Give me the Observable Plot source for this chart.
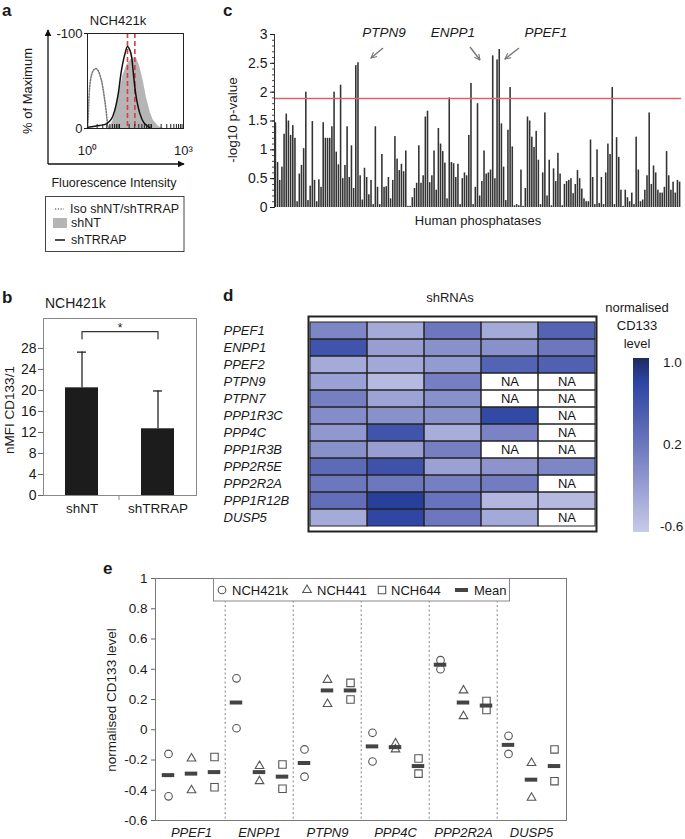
<!DOCTYPE html>
<html><head><meta charset="utf-8">
<script src="https://cdn.jsdelivr.net/npm/d3@7"></script>
<script src="https://cdn.jsdelivr.net/npm/@observablehq/plot@0.6"></script>
<style>
body{margin:0;background:#fff;}
#fig{position:relative;width:685px;height:839px;overflow:hidden;background:#fff;font-family:"Liberation Sans",Arial,Helvetica,sans-serif;}
#fig svg{overflow:visible}
</style></head>
<body><div id="fig"></div>
<script>
// ---------------- DATA ----------------
// Panel a: flow histograms (x = log10 fluorescence, y = % of max)
const isoX=[0.00,0.02,0.05,0.09,0.14,0.20,0.27,0.33,0.38,0.44,0.48,0.53,0.57,0.61,0.64,0.68];
const isoY=[0,10,35,50,58,62,63,61,57,50,43,32,22,10,2,0];
const trrapX=[0.01,0.38,0.59,0.75,0.85,0.96,1.06,1.17,1.25,1.33,1.38,1.43,1.48,1.54,1.64,1.75,1.85,1.96];
const trrapY=[1.4,3.2,4.9,10.2,19,36.5,61,78.6,86.3,82,75,59,43.5,29.5,15.4,6.7,3.2,0.3];
const ntX=[0.69,0.80,0.91,1.01,1.11,1.22,1.33,1.43,1.54,1.64,1.75,1.85,1.96,2.06,2.22,2.38];
const ntY=[0.4,8.4,22.5,40,55.8,66,71.6,74.4,73.3,64.6,48.8,31.2,17.2,8.4,2.1,0];
const medianLines=[1.25,1.48];
const aLegend=["Iso shNT/shTRRAP","shNT","shTRRAP"];

// Panel b
const bNames=["shNT","shTRRAP"];
const bMeans=[20.5,12.7];
const bUpper=[27.3,19.9];
const bTicks=[0,4,8,12,16,20,24,28];
const bracketLow=29.8, bracketHigh=31.2, starLevel=31.9;

// Panel c: -log10 p-values of human phosphatases
const pvals=[1.47,0.78,0.47,0.70,1.27,1.62,1.50,1.25,1.42,1.20,0.10,0.58,0.73,1.02,2.00,0.12,0.37,1.49,0.47,0.10,
0.48,0.35,1.47,1.20,1.20,1.20,1.40,2.00,0.96,0.74,2.12,0.50,0.73,1.40,0.52,1.07,0.33,2.46,2.51,0.55,
0.13,0.68,0.52,0.22,0.47,0.05,1.40,0.35,0.05,0.92,0.35,0.36,0.52,0.15,0.47,1.23,0.84,0.64,0.75,0.62,
0.98,0.02,0.02,0.17,0.33,0.42,1.07,0.42,0.55,1.57,1.67,0.43,0.55,0.98,0.30,1.37,1.10,0.97,0.77,0.15,1.90,
0.78,0.76,0.52,0.75,0.05,0.50,0.60,0.55,1.25,2.15,0.05,0.35,1.80,0.20,0.45,0.98,0.58,0.60,0.65,2.63,
0.50,2.56,2.74,1.45,0.70,0.12,1.34,2.08,1.05,0.03,0.05,0.03,0.65,0.02,0.33,1.57,1.50,1.22,1.04,1.32,
0.82,0.05,0.60,1.64,0.20,0.82,0.03,0.67,0.45,0.94,0.58,0.03,0.40,0.45,0.47,0.50,0.24,0.40,0.64,0.50,
0.32,0.15,0.10,0.10,1.17,0.52,0.05,1.00,0.07,0.52,0.05,0.60,1.10,0.92,2.08,0.05,1.21,0.87,0.30,0.02,
0.30,0.17,0.10,0.25,0.05,1.22,0.65,0.10,0.13,0.30,0.55,1.64,0.40,0.72,0.60,0.30,0.25,0.25,0.35,0.97,
0.55,0.30,0.44,0.25,0.47,0.44];
const threshold=1.89;
const cTicks=[0,0.5,1,1.5,2,2.5,3];
const cAnnot=["PTPN9","ENPP1","PPEF1"];

// Panel d: heatmap
const hmGenes=["PPEF1","ENPP1","PPEF2","PTPN9","PTPN7","PPP1R3C","PPP4C","PPP1R3B","PPP2R5E","PPP2R2A","PPP1R12B","DUSP5"];
const shCols=["sh1","sh2","sh3","sh4","sh5"];
const sh1=[0.05,0.60,-0.30,-0.20,0.12,0.00,-0.12,-0.05,0.35,0.20,0.30,-0.30];
const sh2=[-0.30,-0.18,-0.27,-0.45,-0.22,-0.05,0.60,-0.18,0.62,0.20,0.82,0.75];
const sh3=[0.20,-0.05,-0.15,0.12,-0.05,-0.05,-0.32,0.12,-0.20,0.12,0.25,0.20];
const sh4=[-0.30,-0.05,0.42,null,null,0.72,0.08,null,-0.08,0.15,-0.42,-0.28];
const sh5=[0.42,0.20,0.45,null,null,null,null,null,0.05,null,-0.45,null];
const cbLabels=["1.0","0.2","-0.6"];

// Panel e
const eGenes=["PPEF1","ENPP1","PTPN9","PPP4C","PPP2R2A","DUSP5"];
const e421k=[[-0.16,-0.44],[0.34,0.01],[-0.13,-0.31],[-0.02,-0.21],[0.46,0.40],[-0.04,-0.16]];
const e441=[[-0.19,-0.40],[-0.24,-0.34],[0.33,0.17],[-0.09,-0.13],[0.26,0.09],[-0.22,-0.45]];
const e644=[[-0.18,-0.38],[-0.23,-0.39],[0.31,0.20],[-0.19,-0.29],[0.19,0.13],[-0.13,-0.34]];
const eMean421k=[-0.30,0.18,-0.22,-0.11,0.43,-0.10];
const eMean441=[-0.29,-0.28,0.26,-0.115,0.18,-0.33];
const eMean644=[-0.28,-0.31,0.26,-0.24,0.16,-0.24];
const eTicks=[-0.6,-0.4,-0.2,0,0.2,0.4,0.6,0.8,1];
const eSeries=["NCH421k","NCH441","NCH644","Mean"];

// ---------------- HELPERS ----------------
const FONT='"Liberation Sans", Arial, Helvetica, sans-serif';
const fig=document.getElementById("fig");
function place(node,x,y){node.style.position="absolute";node.style.left=x+"px";node.style.top=y+"px";fig.appendChild(node);return node;}
function label(s,x,y,o={}){
  const d=document.createElement("div");d.textContent=s;
  Object.assign(d.style,{position:"absolute",left:x+"px",top:y+"px",whiteSpace:"nowrap",
    fontSize:(o.size||13)+"px",fontWeight:o.bold?"bold":"normal",fontStyle:o.italic?"italic":"normal",
    color:o.color||"#1a1a1a",lineHeight:"1",fontFamily:FONT});
  const tx=o.align==="center"?"-50%":o.align==="right"?"-100%":"0";
  d.style.transform=`translate(${tx},-50%)`+(o.rotate?` rotate(${o.rotate}deg)`:"");
  fig.appendChild(d);return d;
}
const baseStyle={fontFamily:FONT,fontSize:"13px",color:"#1a1a1a",background:"transparent",overflow:"visible"};

// ---------------- PANEL A ----------------
const minorA=[];for(let e=0;e<3;e++)for(let k=1;k<10;k++)minorA.push(e+Math.log10(k));minorA.push(3);
const pa=Plot.plot({
  width:200,height:160,marginLeft:87,marginRight:17,marginTop:33,marginBottom:32,style:baseStyle,
  x:{domain:[0,3],label:null},y:{domain:[0,100],label:null},
  marks:[
    Plot.areaY(ntX.map((x,i)=>({x,y:ntY[i]})),{x:"x",y:"y",fill:"#b5b5b5"}),
    Plot.ruleX(medianLines,{stroke:"#e0383e",strokeWidth:1.6,strokeDasharray:"5,3"}),
    Plot.line(isoX.map((x,i)=>({x,y:isoY[i]})),{x:"x",y:"y",stroke:"#7a7a7a",strokeWidth:1.6,strokeDasharray:"1.2,1.6",curve:"catmull-rom"}),
    Plot.line(trrapX.map((x,i)=>({x,y:trrapY[i]})),{x:"x",y:"y",stroke:"#111",strokeWidth:1.5,curve:"catmull-rom"}),
    Plot.tickX(minorA,{x:d=>d,insetTop:91,stroke:"#222"}),
    Plot.axisX([0,3],{tickSize:0,tickPadding:17,tickFormat:d=>d===0?"10\u2070":"10\u00B3",fontSize:13}),
    Plot.axisY([0,100],{tickSize:3,tickPadding:2,tickFormat:d=>d===100?"-100":"0",fontSize:13}),
    Plot.frame({stroke:"#222"})
  ]
});
place(pa,0,0);
label("a",2,10,{bold:true,size:17});
label("NCH421k",118,20,{align:"center",size:13});
label("% of Maximum",27,91,{align:"center",rotate:-90,size:13});
label("Fluorescence Intensity",114,183,{align:"center",size:12.5});
label(aLegend[0],70,209,{size:12.5});
label(aLegend[1],71,223,{size:12.5});
label(aLegend[2],71,240,{size:12.5});

// ---------------- PANEL B ----------------
const bData=bNames.map((n,i)=>({n,m:bMeans[i],hi:bUpper[i]}));
const bracket=[{n:bNames[0],y:bracketLow},{n:bNames[0],y:bracketHigh},{n:bNames[1],y:bracketHigh},{n:bNames[1],y:bracketLow}];
const pb=Plot.plot({
  width:200,height:240,marginLeft:43,marginRight:4,marginTop:38,marginBottom:25,style:baseStyle,
  x:{type:"band",domain:bNames,paddingInner:0.57,paddingOuter:0.28,label:null},
  y:{domain:[0,33.7],label:null},
  marks:[
    Plot.ruleX(bData,{x:"n",y1:"m",y2:"hi",stroke:"#111",strokeWidth:1.2}),
    Plot.tickY(bData,{x:"n",y:"hi",stroke:"#111",strokeWidth:1.2,insetLeft:12,insetRight:12}),
    Plot.barY(bData,{x:"n",y:"m",fill:"#1c1c1c"}),
    Plot.line(bracket,{x:"n",y:"y",stroke:"#333",strokeWidth:1.2}),
    Plot.text(["*"],{y:()=>starLevel,text:d=>d,fontSize:12,fill:"#222"}),
    Plot.axisX({tickSize:0,tickPadding:8,fontSize:13.5}),
    Plot.axisY(bTicks,{tickSize:5,tickPadding:2,fontSize:14,stroke:"#666"}),
    Plot.frame({stroke:"#888"})
  ]
});
place(pb,0,280);
label("b",2,297,{bold:true,size:17});
label("NCH421k",45,303,{size:14});
label("nMFI CD133/1",10,410,{align:"center",rotate:-90,size:13.5});

// ---------------- PANEL C ----------------
const cMinor=d3.range(0,3.001,0.1);
const pc=Plot.plot({
  width:485,height:230,marginLeft:74,marginRight:4,marginTop:34,marginBottom:23,style:baseStyle,
  x:{type:"band",domain:d3.range(pvals.length),padding:0.28,axis:null},
  y:{domain:[0,3],label:null},
  marks:[
    Plot.barY(pvals,{x:(d,i)=>i,y:d=>d,fill:"#333"}),
    Plot.ruleY([threshold],{stroke:"#e45f66",strokeWidth:1.6}),
    Plot.axisY(cMinor,{tickSize:2,tickFormat:()=>"",stroke:"#444"}),
    Plot.axisY(cTicks,{tickSize:4,tickPadding:3,tickFormat:d=>String(d),fontSize:14}),
    Plot.frame({anchor:"left",stroke:"#333"})
  ]
});
place(pc,200,0);
label("c",223,10,{bold:true,size:17});
label("-log10 p-value",233,120,{align:"center",rotate:-90,size:13.5});
label("Human phosphatases",478,220,{align:"center",size:13});
label(cAnnot[0],384,33,{align:"center",italic:true,size:13.5});
label(cAnnot[1],453,33,{align:"center",italic:true,size:13.5});
label(cAnnot[2],546,33,{align:"center",italic:true,size:13.5});

// ---------------- PANEL D ----------------
const hmCols=[sh1,sh2,sh3,sh4,sh5];
const cells=hmGenes.flatMap((g,i)=>hmCols.map((c,j)=>({gene:g,sh:shCols[j],v:c[i]})));
const cbDomain=[-0.6,0.2,0.8,1.0];
const cbRange=["#c7cae9","#6d77be","#2a42a2","#1e2b5e"];
const pd=Plot.plot({
  width:400,height:250,marginLeft:98,marginRight:14,marginTop:26,marginBottom:9,style:baseStyle,
  x:{type:"band",domain:shCols,padding:0,axis:null},
  y:{type:"band",domain:hmGenes,padding:0,axis:null},
  color:{type:"linear",domain:cbDomain,range:cbRange,interpolate:"rgb"},
  marks:[
    Plot.cell(cells.filter(d=>d.v!=null),{x:"sh",y:"gene",fill:"v",inset:0}),
    Plot.cell(cells,{x:"sh",y:"gene",fill:"none",stroke:"#222",strokeWidth:1,inset:0}),
    Plot.text(cells.filter(d=>d.v==null),{x:"sh",y:"gene",text:()=>"NA",fontSize:13,fill:"#111"}),
    Plot.text(hmGenes,{y:d=>d,text:d=>d,frameAnchor:"left",textAnchor:"start",dx:-85,fontStyle:"italic",fontSize:13,fill:"#1a1a1a"}),
    Plot.frame({stroke:"#222",strokeWidth:2})
  ]
});
place(pd,210,290);
label("d",223,295,{bold:true,size:17});
label("shRNAs",450,297,{align:"center",size:13});
label("normalised",637,307,{align:"center",size:13});
label("CD133",637,325,{align:"center",size:13});
label("level",637,343,{align:"center",size:13});
const cb=document.createElement("div");
Object.assign(cb.style,{width:"16px",height:"174px",
  background:`linear-gradient(to bottom, ${cbRange[3]} 0%, ${cbRange[2]} 12.5%, ${cbRange[1]} 50%, ${cbRange[0]} 100%)`});
place(cb,633,358);
label(cbLabels[0],663,363,{size:13.5});
label(cbLabels[1],663,445,{size:13.5});
label(cbLabels[2],660,527,{size:13.5});

// ---------------- PANEL E ----------------
const eStep=(566-155)/eGenes.length;
const eDefs=[
  {vals:e421k,means:eMean421k,symbol:"circle",r:3.8,dx:-23},
  {vals:e441,means:eMean441,symbol:"triangle",r:3.2,dx:0},
  {vals:e644,means:eMean644,symbol:"square",r:4.2,dx:23}
];
const eMarks=[Plot.ruleX(eGenes.slice(1),{x:d=>d,dx:-eStep/2,stroke:"#9a9a9a",strokeWidth:1.2,strokeDasharray:"2,2.5"})];
for(const s of eDefs){
  const pts=eGenes.flatMap((g,i)=>s.vals[i].map(v=>({g,v})));
  eMarks.push(Plot.dot(pts,{x:"g",y:"v",dx:s.dx,symbol:s.symbol,r:s.r,stroke:"#555",strokeWidth:1.1,fill:"white"}));
}
for(const s of eDefs){
  const ms=eGenes.map((g,i)=>({g,m:s.means[i]}));
  eMarks.push(Plot.tickY(ms,{x:"g",y:"m",dx:s.dx,stroke:"#444",strokeWidth:4,insetLeft:(eStep-13)/2,insetRight:(eStep-13)/2}));
}
eMarks.push(Plot.axisX({tickSize:0,tickPadding:7,fontStyle:"italic",fontSize:13}));
eMarks.push(Plot.axisY(eTicks,{tickSize:4,tickPadding:4,tickFormat:d=>String(d),fontSize:13.5,stroke:"#666"}));
eMarks.push(Plot.frame({stroke:"#777"}));
const pe=Plot.plot({
  width:685,height:279,marginLeft:155,marginRight:119,marginTop:18,marginBottom:19,style:baseStyle,
  x:{type:"band",domain:eGenes,padding:0,label:null},
  y:{domain:[-0.6,1],label:null},
  marks:eMarks
});
place(pe,0,560);
label("e",103,568,{bold:true,size:17});
label("normalised CD133 level",112,700,{align:"center",rotate:-90,size:13.5});

// ---------------- OVERLAY (axes arrows, legends) ----------------
const ov=d3.create("svg").attr("width",685).attr("height",839)
  .style("position","absolute").style("left","0").style("top","0").style("pointer-events","none");
const defs=ov.append("defs");
defs.append("marker").attr("id","ah").attr("viewBox","0 0 10 10").attr("refX",9).attr("refY",5)
  .attr("markerWidth",7).attr("markerHeight",7).attr("markerUnits","userSpaceOnUse").attr("orient","auto")
  .append("path").attr("d","M0,0L10,5L0,10Z").attr("fill","#111");
defs.append("marker").attr("id","av").attr("viewBox","0 0 10 10").attr("refX",9).attr("refY",5)
  .attr("markerWidth",7).attr("markerHeight",7).attr("markerUnits","userSpaceOnUse").attr("orient","auto")
  .append("path").attr("d","M1,1L9,5L1,9").attr("fill","none").attr("stroke","#777").attr("stroke-width",1.6);
// panel a outer axes
ov.append("path").attr("d","M48,164V30").attr("stroke","#111").attr("stroke-width",1.3).attr("marker-end","url(#ah)");
ov.append("path").attr("d","M48,164H184").attr("stroke","#111").attr("stroke-width",1.3).attr("marker-end","url(#ah)");
// panel a legend
ov.append("rect").attr("x",45.5).attr("y",196.5).attr("width",138.5).attr("height",55).attr("fill","none").attr("stroke","#444");
ov.append("path").attr("d","M55,209H64").attr("stroke","#7a7a7a").attr("stroke-width",1.6).attr("stroke-dasharray","1.2,1.6");
ov.append("rect").attr("x",53).attr("y",218).attr("width",14).attr("height",10).attr("fill","#b5b5b5");
ov.append("path").attr("d","M55,240H65").attr("stroke","#111").attr("stroke-width",1.5);
// panel b middle tick
ov.append("path").attr("d","M119,495V500").attr("stroke","#888");
// panel c arrows
for(const d of ["M383,48L371,58","M470,47L480,60","M519,48L505,59"])
  ov.append("path").attr("d",d).attr("stroke","#777").attr("stroke-width",1.4).attr("fill","none").attr("marker-end","url(#av)");
// panel e legend
const lg=ov.append("g");
lg.append("rect").attr("x",213.5).attr("y",578.5).attr("width",296).attr("height",22.5).attr("fill","white").attr("stroke","#888");
const symG=(type,r,x)=>lg.append("path").attr("transform",`translate(${x},590)`)
  .attr("d",d3.symbol(type,Math.PI*r*r)()).attr("fill","white").attr("stroke","#555").attr("stroke-width",1.1);
symG(d3.symbolCircle,3.8,222);symG(d3.symbolTriangle,3.2,307);symG(d3.symbolSquare,4.2,382);
lg.append("path").attr("d","M455,590H468").attr("stroke","#444").attr("stroke-width",4);
const lx=[232,317,391,474];
eSeries.forEach((s,i)=>lg.append("text").attr("x",lx[i]).attr("y",590).attr("dy","0.35em")
  .attr("font-family",FONT).attr("font-size",13).attr("fill","#1a1a1a").text(s));
fig.appendChild(ov.node());
</script>
</body></html>
